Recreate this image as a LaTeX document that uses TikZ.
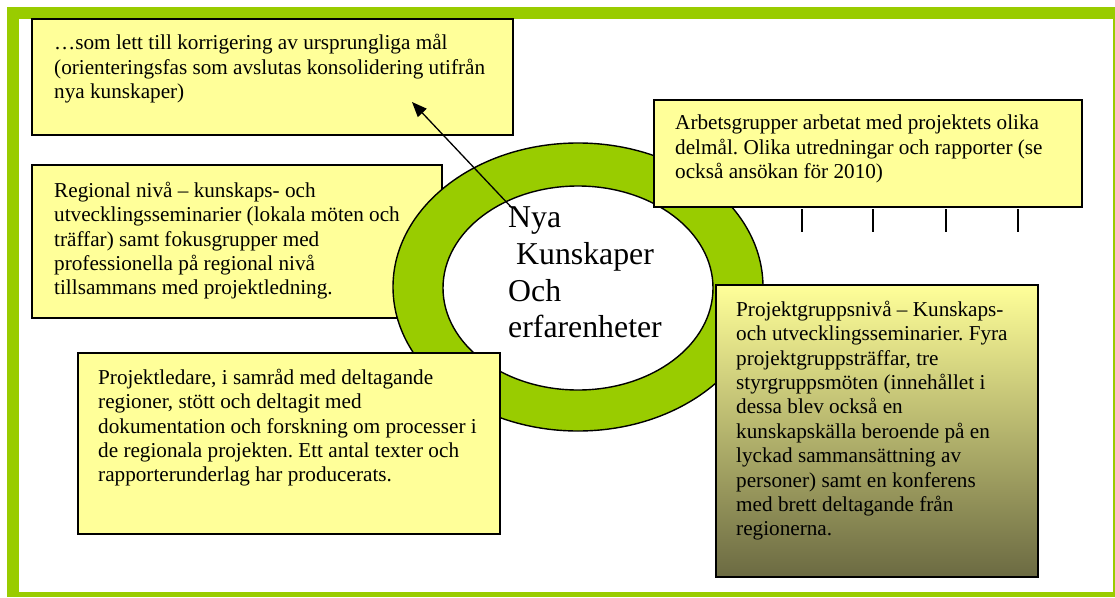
\documentclass[tikz,border=0pt]{standalone}
\usepackage{fontspec}
\setmainfont{Liberation Serif}
\usetikzlibrary{arrows.meta,shapes.geometric}
\frenchspacing
\definecolor{framegreen}{HTML}{99CC00}
\definecolor{boxyellow}{HTML}{FFFF99}
\definecolor{darkolive}{HTML}{6B6A42}
\newcommand{\fst}{\rule{0pt}{17pt}}
\newcommand{\bst}{\rule{0pt}{25pt}}
\tikzset{
  panel/.style={draw=black, line width=1.4pt, fill=boxyellow, anchor=north west, inner sep=0pt, outer sep=0pt},
  txt/.style={anchor=north west, inner sep=0pt, align=left, font=\fontsize{21.2}{24.4}\selectfont\frenchspacing},
  bigtxt/.style={anchor=north west, inner sep=0pt, align=left, font=\fontsize{31.8}{36.6}\selectfont},
  ring/.style={ellipse, draw=black, line width=1.4pt, inner sep=0pt, outer sep=0pt},
  tickline/.style={line width=1.3pt},
  arrowline/.style={line width=1.3pt, -{Triangle[length=15pt,width=12pt]}}
}
\begin{document}
\begin{tikzpicture}[x=1pt,y=-1pt]
\useasboundingbox (0,0) rectangle (1115,597);
% frame
\fill[framegreen] (7,7) rectangle (1115,597);
\fill[white] (19,19) rectangle (1113,592);
% box 1
\node[panel, minimum width=481pt, minimum height=116pt] (box1) at (32,19) {};
\node[txt] (t1) at (54,32.5) {\fst…som lett till korrigering av ursprungliga mål\\
(orienteringsfas som avslutas konsolidering utifrån\\
nya kunskaper)};
% box 2
\node[panel, minimum width=410pt, minimum height=153pt] (box2) at (32,165) {};
\node[txt] (t2) at (54,180) {\fst Regional nivå – kunskaps- och\\
utvecklingsseminarier (lokala möten och\\
träffar) samt fokusgrupper med\\
professionella på regional nivå\\
tillsammans med projektledning.};
% ring
\node[ring, fill=framegreen, minimum width=370pt, minimum height=288pt] (outer) at (578,287) {};
\node[ring, fill=white, minimum width=270pt, minimum height=204pt] (inner) at (578,288) {};
\node[bigtxt] (center) at (508,202.7) {\bst Nya\\
\ Kunskaper\\
Och\\
erfarenheter};
% arrow
\coordinate (arrowfrom) at (512,208);
\coordinate (arrowto) at (412,102);
\draw[arrowline] (arrowfrom) -- (arrowto);
% box 3
\node[panel, minimum width=422pt, minimum height=181pt] (box3) at (78,353) {};
\node[txt] (t3) at (98,367) {\fst Projektledare, i samråd med deltagande\\
regioner, stött och deltagit med\\
dokumentation och forskning om processer i\\
de regionala projekten. Ett antal texter och\\
rapporterunderlag har producerats.};
% box 4
\node[panel, minimum width=428pt, minimum height=107pt] (box4) at (654,100) {};
\node[txt] (t4) at (675,112.5) {\fst Arbetsgrupper arbetat med projektets olika\\
delmål. Olika utredningar och rapporter (se\\
också ansökan för 2010)};
\foreach \xx in {802,873,946,1018} {
  \draw[tickline] (\xx,209) -- (\xx,232);
}
% box 5
\node[panel, top color=boxyellow, bottom color=darkolive, minimum width=322pt, minimum height=292pt] (box5) at (716,285) {};
\node[txt] (t5) at (736,299) {\fst Projektgruppsnivå – Kunskaps-\\
och utvecklingsseminarier. Fyra\\
projektgruppsträffar, tre\\
styrgruppsmöten (innehållet i\\
dessa blev också en\\
kunskapskälla beroende på en\\
lyckad sammansättning av\\
personer) samt en konferens\\
med brett deltagande från\\
regionerna.};
\end{tikzpicture}
\end{document}
